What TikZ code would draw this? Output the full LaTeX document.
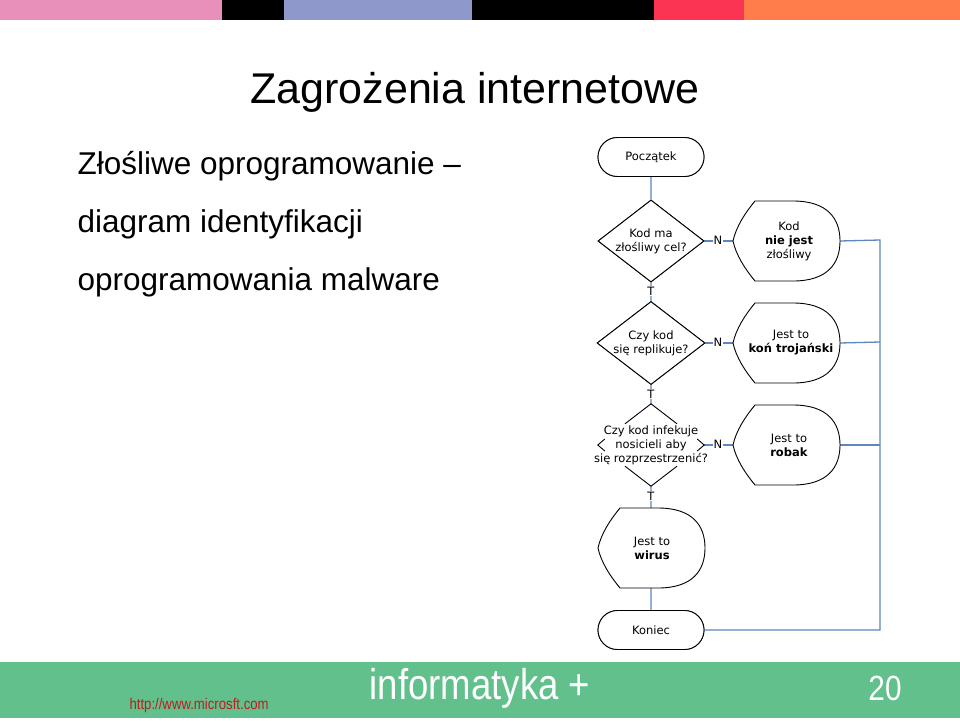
\documentclass[tikz,border=0pt]{standalone}
\usepackage{fontspec}
\setmainfont{Liberation Sans}
\newfontfamily\flow{DejaVu Sans}
\usetikzlibrary{shapes.geometric,shapes.misc,calc}
\begin{document}
\begin{tikzpicture}[x=1pt,y=-1pt,
  conn/.style={draw=linkblue,line width=1.3pt},
  outl/.style={draw=black,line width=0.9pt,fill=white},
  ftxt/.style={font=\flow\fontsize{11.5}{14}\selectfont,align=center,inner sep=0pt},
  lbl/.style={font=\flow\fontsize{11.5}{12}\selectfont,fill=white,inner sep=1pt},
  term/.style={outl,rounded rectangle,minimum width=106pt,minimum height=39pt,ftxt},
  dec/.style={outl,diamond,minimum width=106pt,minimum height=82pt,aspect=1.3,ftxt}]
\definecolor{linkblue}{RGB}{95,135,190}
\useasboundingbox (0,0) rectangle (960,720);
\fill[white] (0,0) rectangle (960,720);
% top bar
\fill[fill={rgb,255:red,232;green,143;blue,186}] (0,0) rectangle (222,20);
\fill[black] (222,0) rectangle (284,20);
\fill[fill={rgb,255:red,142;green,152;blue,202}] (284,0) rectangle (472,20);
\fill[black] (472,0) rectangle (654,20);
\fill[fill={rgb,255:red,250;green,52;blue,82}] (654,0) rectangle (744,20);
\fill[fill={rgb,255:red,255;green,125;blue,75}] (744,0) rectangle (960,20);
% bottom band
\fill[fill={rgb,255:red,98;green,192;blue,140}] (0,662) rectangle (960,718);
\node[font=\fontsize{43}{44}\selectfont,text=white] (foot) at (480,688) {\addfontfeature{FakeStretch=0.85}informatyka +};
\node[font=\fontsize{35}{36}\selectfont,text=white] (pg) at (885,688) {\addfontfeature{FakeStretch=0.85}20};
\node[font=\fontsize{15.5}{16}\selectfont,text={rgb,255:red,190;green,30;blue,30},anchor=west] (url) at (126,705) {\addfontfeature{FakeStretch=0.85}http://www.microsft.com};
% title
\node[font=\fontsize{43}{46}\selectfont] (title) at (475,92) {Zagrożenia internetowe};
\node[font=\fontsize{31.5}{34}\selectfont,anchor=base west] (l1) at (74,174) {Złośliwe oprogramowanie –};
\node[font=\fontsize{31.5}{34}\selectfont,anchor=base west] (l2) at (74,232) {diagram identyfikacji};
\node[font=\fontsize{31.5}{34}\selectfont,anchor=base west] (l3) at (74,290) {oprogramowania malware};
% flowchart
\coordinate (bus1) at (880,240);
\coordinate (bus4) at (880,630);
\coordinate (bus2) at (880,342);
\coordinate (bus3) at (880,445);
\node[term] (start) at (651,157) {Początek};
\node[dec] (d1) at (651,241) {Kod ma\\złośliwy cel?};
\node[dec] (d2) at (651,343) {Czy kod\\się replikuje?};
\node[draw=none,fill=none,diamond,minimum width=106pt,minimum height=82pt,aspect=1.3] (d3) at (651,445) {};
\node[term] (end) at (651,630) {Koniec};
% displays
\newcommand{\dispshape}[3]{% x0 y0 name
  \draw[outl] (#1+22,#2) -- (#1+60,#2) .. controls (#1+95,#2) and (#1+107,#2+18) .. (#1+107,#2+40)
     .. controls (#1+107,#2+62) and (#1+95,#2+80) .. (#1+60,#2+80) -- (#1+22,#2+80)
     .. controls (#1+12,#2+68) and (#1+3,#2+54) .. (#1,#2+40)
     .. controls (#1+3,#2+26) and (#1+12,#2+12) .. (#1+22,#2) -- cycle;
  \coordinate (#3w) at (#1,#2+40); \coordinate (#3e) at (#1+107,#2+40);}
% connectors first
\draw[conn] (start) -- (d1) -- (d2) -- (d3.center) -- (651,548) -- (end);
\draw[conn] (d1.east) -- (733,241);
\draw[conn] (d2.east) -- (733,343);
\draw[conn] (d3.east) -- (733,445);
\draw[conn] (840,241) -- (bus1) -- (bus4) -- (end.east);
\draw[conn] (840,343) -- (bus2);
\draw[conn] (840,445) -- (bus3);
\node[term] at (651,157) {Początek};
\node[dec] at (651,241) {Kod ma\\złośliwy cel?};
\node[dec] at (651,343) {Czy kod\\się replikuje?};
\node[term] at (651,630) {Koniec};
\fill[white] (d3.north) -- (d3.east) -- (d3.south) -- (d3.west) -- cycle;
\draw[black,line width=0.9pt] (d3.west) ++(7,-6) -- (d3.west) -- ++(7,6);
\draw[black,line width=0.9pt] (d3.east) ++(-7,-6) -- (d3.east) -- ++(-7,6);
\draw[black,line width=0.9pt] ($(d3.north)+(-26,20)$) -- (d3.north) -- ($(d3.north)+(26,20)$);
\draw[black,line width=0.9pt] ($(d3.south)+(-26,-20)$) -- (d3.south) -- ($(d3.south)+(26,-20)$);
\node[ftxt] (d3t) at (d3) {Czy kod infekuje\\nosicieli aby\\się rozprzestrzenić?};
\dispshape{733}{201}{p1}
\dispshape{733}{303}{p2}
\dispshape{733}{405}{p3}
\dispshape{598}{508}{p4}
\node[ftxt] (t1) at (789,241) {Kod\\\textbf{nie jest}\\złośliwy};
\node[ftxt] (t2) at (791,343) {Jest to\\\textbf{koń trojański}};
\node[ftxt] (t3) at (789,445) {Jest to\\\textbf{robak}};
\node[ftxt] (t4) at (652,548) {Jest to\\\textbf{wirus}};
\node[lbl] (n1) at (718,240) {N};
\node[lbl] (n2) at (718,342) {N};
\node[lbl] (n3) at (718,444) {N};
\node[lbl] (tt1) at (651,291) {T};
\node[lbl] (tt2) at (651,394) {T};
\node[lbl] (tt3) at (651,496) {T};
\end{tikzpicture}
\end{document}
